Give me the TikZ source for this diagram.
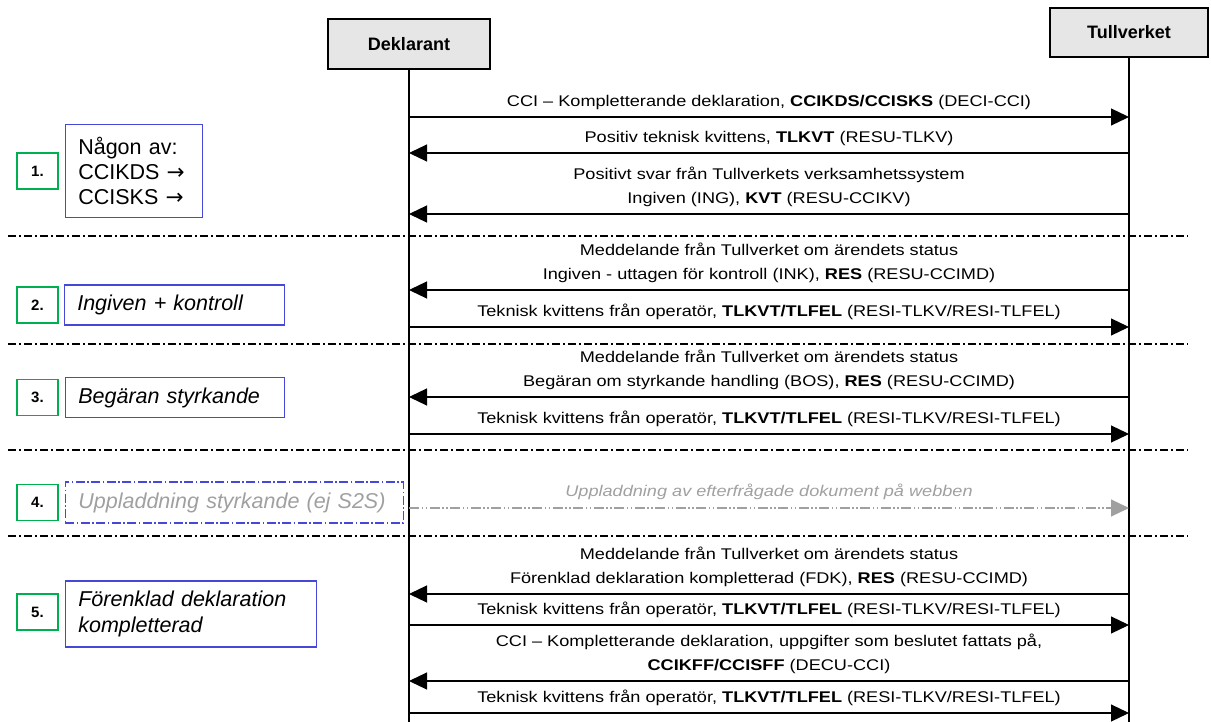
\documentclass[tikz,border=0pt]{standalone}
\usepackage{fontspec}
\setmainfont{Liberation Sans}
\newfontfamily\msgfont{Liberation Sans}[FakeStretch=1.17]
\newfontfamily\pilfont{DejaVu Sans}
\usetikzlibrary{positioning,arrows.meta,calc}

\definecolor{nrgreen}{RGB}{0,176,80}
\definecolor{stegblue}{RGB}{72,72,216}
\definecolor{webgray}{RGB}{160,160,160}
\definecolor{actorfill}{RGB}{230,230,230}

\tikzset{
  actor/.style={draw, line width=1.8pt, fill=actorfill, font=\bfseries\fontsize{18}{20}\selectfont},
  lifeline/.style={line width=1.3pt},
  msg/.style={-{Triangle[length=18pt,width=17pt]}, line width=1.2pt},
  msglabel/.style={font=\msgfont\fontsize{15.5}{24}\selectfont, align=center, inner sep=0pt},
  sep/.style={line width=1.2pt, dash pattern=on 8pt off 3pt on 2pt off 3pt},
  nrbox/.style={draw=nrgreen, line width=1.4pt, minimum width=41pt, minimum height=36pt, font=\bfseries\fontsize{15}{18}\selectfont},
  stegbox/.style={draw=stegblue, line width=1.2pt, align=left, inner ysep=0pt, inner xsep=13pt, font=\itshape\fontsize{21.5}{26}\selectfont}
}

\begin{document}
\begin{tikzpicture}[x=1pt, y=-1pt]
  \useasboundingbox (0,0) rectangle (1211,722);
  % aktörer
  \node[actor, minimum width=162pt, minimum height=50pt] (dek) at (409,44) {Deklarant};
  \node[actor, minimum width=158pt, minimum height=49pt] (tull) at (1129,32.5) {Tullverket};
  \coordinate (botten) at (0,722);
  \draw[lifeline] (dek) -- (dek.south |- botten);
  \draw[lifeline] (tull) -- (tull.south |- botten);

  % avdelare
  \foreach \s in {236,344,450,536} {
    \draw[sep] (8,\s) -- (1188,\s);
  }

  % meddelanden
  \foreach \y/\fr/\ti/\txt [count=\i] in {
      117/dek/tull/{CCI – Kompletterande deklaration, \textbf{CCIKDS/CCISKS} (DECI-CCI)},
      153/tull/dek/{Positiv teknisk kvittens, \textbf{TLKVT} (RESU-TLKV)},
      214/tull/dek/{Positivt svar från Tullverkets verksamhetssystem\\Ingiven (ING), \textbf{KVT} (RESU-CCIKV)},
      290/tull/dek/{Meddelande från Tullverket om ärendets status\\Ingiven - uttagen för kontroll (INK), \textbf{RES} (RESU-CCIMD)},
      327/dek/tull/{Teknisk kvittens från operatör, \textbf{TLKVT/TLFEL} (RESI-TLKV/RESI-TLFEL)},
      397/tull/dek/{Meddelande från Tullverket om ärendets status\\Begäran om styrkande handling (BOS), \textbf{RES} (RESU-CCIMD)},
      434/dek/tull/{Teknisk kvittens från operatör, \textbf{TLKVT/TLFEL} (RESI-TLKV/RESI-TLFEL)},
      594/tull/dek/{Meddelande från Tullverket om ärendets status\\Förenklad deklaration kompletterad (FDK), \textbf{RES} (RESU-CCIMD)},
      625/dek/tull/{Teknisk kvittens från operatör, \textbf{TLKVT/TLFEL} (RESI-TLKV/RESI-TLFEL)},
      681/tull/dek/{CCI – Kompletterande deklaration, uppgifter som beslutet fattats på,\\\textbf{CCIKFF/CCISFF} (DECU-CCI)},
      713/dek/tull/{Teknisk kvittens från operatör, \textbf{TLKVT/TLFEL} (RESI-TLKV/RESI-TLFEL)}} {
    \coordinate (m\i) at (0,\y);
    \draw[msg] (\fr.south |- m\i) -- (\ti.south |- m\i);
    \node[msglabel, above=7pt] (lbl\i) at ($(dek.south |- m\i)!0.5!(tull.south |- m\i)$) {\txt};
  }

  % uppladdning via webben
  \coordinate (web) at (0,508);
  \draw[msg, webgray, dash pattern=on 10pt off 2.5pt on 1.5pt off 2.5pt on 1.5pt off 2.5pt] (dek.south |- web) -- (tull.south |- web);
  \node[msglabel, above=8pt, text=webgray, font=\msgfont\itshape\fontsize{15.5}{20}\selectfont] (weblbl) at ($(dek.south |- web)!0.5!(tull.south |- web)$) {Uppladdning av efterfrågade dokument på webben};

  % steg
  \node[nrbox] (nr1) at (37.5,171) {1.};
  \node[nrbox] (nr2) at (37.5,305) {2.};
  \node[nrbox] (nr3) at (37.5,397.5) {3.};
  \node[nrbox] (nr4) at (37.5,502.5) {4.};
  \node[nrbox] (nr5) at (37.5,612) {5.};
  \node[stegbox, right=6pt of nr1, text width=111pt, minimum height=93pt, font=\fontsize{21.5}{25}\selectfont] (steg1) {Någon av:\\CCIKDS {\pilfont →}\\CCISKS {\pilfont →}};
  \node[stegbox, right=5pt of nr2, text width=194pt, minimum height=40pt] (steg2) {Ingiven + kontroll};
  \node[stegbox, right=6pt of nr3, text width=193pt, minimum height=40pt] (steg3) {Begäran styrkande};
  \node[stegbox, right=6pt of nr4, text width=312pt, minimum height=41pt, text=webgray, line width=1.4pt, dash pattern=on 9pt off 2.5pt on 1.5pt off 2.5pt] (steg4) {Uppladdning styrkande (ej S2S)};
  \node[stegbox, right=6pt of nr5, yshift=-2pt, text width=225pt, minimum height=66pt] (steg5) {Förenklad deklaration\\kompletterad};
\end{tikzpicture}
\end{document}
